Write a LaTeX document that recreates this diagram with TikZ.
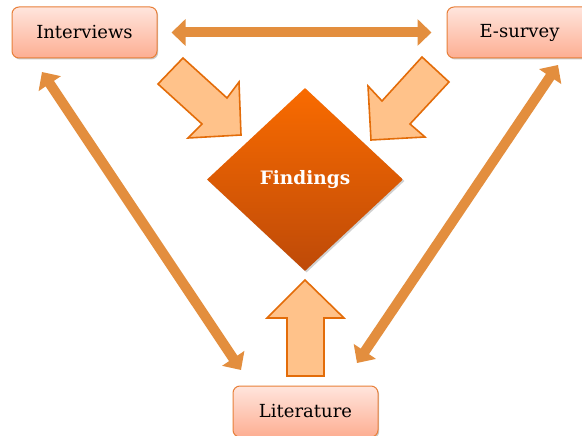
\documentclass[tikz,border=0pt]{standalone}
\usepackage{fontspec}
\setmainfont{DejaVu Serif}
\usetikzlibrary{arrows.meta,shadows,shapes.geometric}
\definecolor{boxtop}{HTML}{FFE5DD}
\definecolor{boxbot}{HTML}{FDAE92}
\definecolor{boxline}{HTML}{E8803A}
\definecolor{blkfill}{HTML}{FFC28A}
\definecolor{blkline}{HTML}{E36C09}
\definecolor{dblcol}{HTML}{E38E3E}
\definecolor{dtop}{HTML}{F96B00}
\definecolor{dbot}{HTML}{BE4A08}
\begin{document}
\begin{tikzpicture}[x=1pt,y=-1pt,
  box/.style={draw=boxline, line width=1pt, rounded corners=7pt,
    top color=boxtop, bottom color=boxbot,
    minimum width=145pt, minimum height=51pt, inner sep=0pt,
    font=\fontsize{18}{22}\selectfont,
    drop shadow={shadow xshift=1.2pt, shadow yshift=-1.5pt, opacity=0.35, fill=black!60}},
  dbl/.style={draw=dblcol, line width=10pt,
    {Triangle[length=14pt,width=26pt]}-{Triangle[length=14pt,width=26pt]}},
  blockarrow/.style={draw=blkline, fill=blkfill, line width=1.6pt, line join=miter},
  finbox/.style={shape=diamond, aspect=1.07, minimum width=196pt, minimum height=183pt,
    inner sep=0pt, top color=dtop, bottom color=dbot, text=white,
    font=\bfseries\fontsize{18.5}{22}\selectfont,
    drop shadow={shadow xshift=1.5pt, shadow yshift=-1.5pt, opacity=0.3, fill=black!60}}
]
\useasboundingbox (0,0) rectangle (582,436);
\fill[white] (0,0) rectangle (582,436);

\node[box] (int) at (84.5,32.5) {Interviews};
\node[box] (esv) at (519.5,32.5) {E-survey};
\node[box] (lit) at (305.5,411.5) {Literature};
\node[finbox] (fin) at (305,179.5) {Findings};

% top double arrow
\draw[dbl, shorten <=14pt, shorten >=15pt] (int.east) -- (esv.west);

% diagonal double arrows
\coordinate (ilA) at (42,72);
\coordinate (ilB) at (241,370);
\coordinate (elA) at (558,65);
\coordinate (elB) at (357,363);
\draw[dbl] (ilA) -- (ilB);
\draw[dbl] (elA) -- (elB);

% block arrows
\draw[blockarrow] (158,84) -- (183,58) -- (227,98) -- (239,82) -- (241,135) -- (188,138) -- (202,124) -- cycle;
\draw[blockarrow] (422,57) -- (449,82) -- (410,124) -- (425,137) -- (371,140) -- (368,86) -- (382,101) -- cycle;
\draw[blockarrow] (287,376) -- (287,318) -- (267,318) -- (305,280) -- (344,318) -- (324,318) -- (324,376) -- cycle;
\end{tikzpicture}
\end{document}
